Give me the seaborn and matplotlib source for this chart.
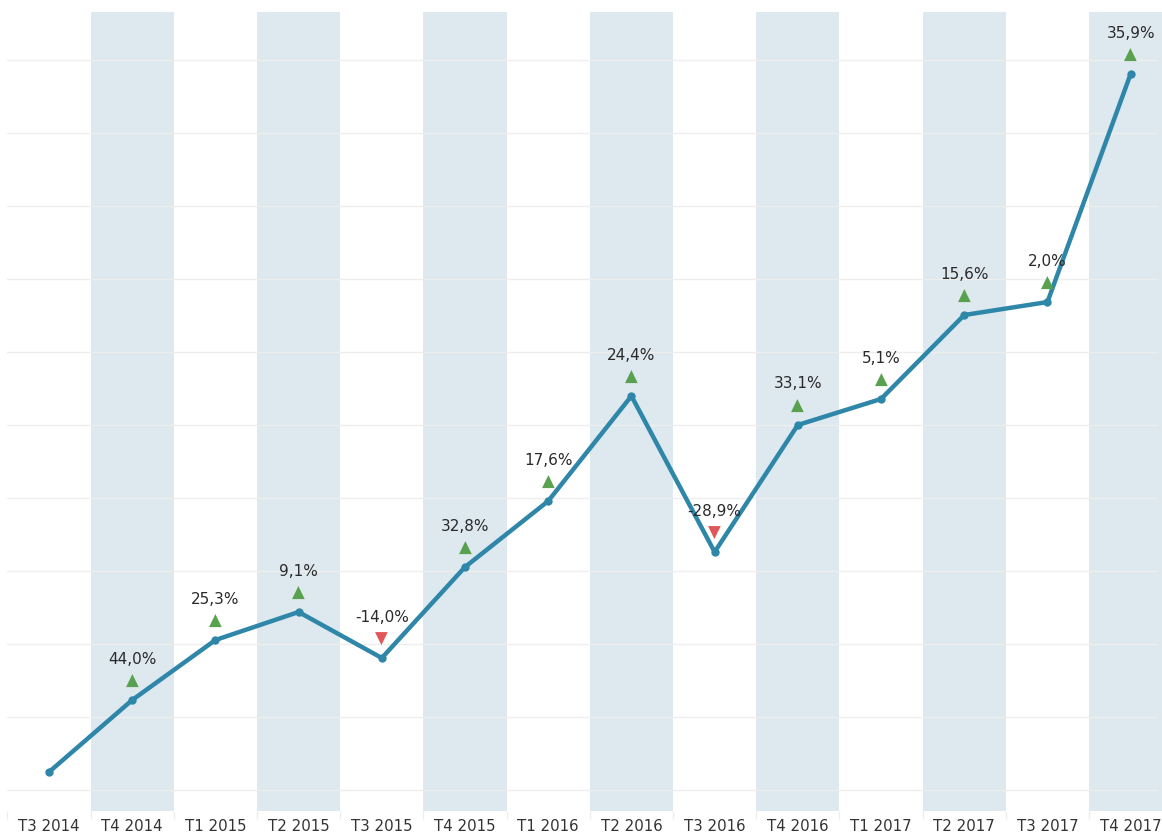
import matplotlib
matplotlib.use("Agg")
import matplotlib.pyplot as plt
import seaborn as sns
import pandas as pd
import numpy as np

quarters = ["T3 2014", "T4 2014", "T1 2015", "T2 2015", "T3 2015", "T4 2015", "T1 2016",
            "T2 2016", "T3 2016", "T4 2016", "T1 2017", "T2 2017", "T3 2017", "T4 2017"]
values = [2241, 3227, 4049, 4433, 3803, 5049, 5953, 7392, 5255, 6995, 7351, 8501, 8679, 11803]
changes = [None, 44.0, 25.3, 9.1, -14.0, 32.8, 17.6, 24.4, -28.9, 33.1, 5.1, 15.6, 2.0, 35.9]

sns.set_theme(style="white")
plt.rcParams['font.family'] = ['DejaVu Sans']

df = pd.DataFrame({"quarter": quarters, "value": values, "idx": range(len(quarters))})

fig = plt.figure(figsize=(11.62, 8.34), dpi=100)
ax = fig.add_axes([7.4/1162, (834-811)/834, (1162-7.4)/1162, (811-12)/834])

# alternating stripes
for i in range(len(quarters)):
    if i % 2 == 1:
        ax.axvspan(i - 0.5, i + 0.5, color="#dde8ef", zorder=0, lw=0)

for g in range(2000, 13000, 1000):
    ax.axhline(g, xmax=(1157-7.4)/(1162-7.4), color="#eeeeee", lw=1, zorder=1)

sns.lineplot(data=df, x="idx", y="value", ax=ax, color="#2e86a8", lw=3.2,
             marker="o", markersize=6, markeredgewidth=0, zorder=3)

for i, (v, c) in enumerate(zip(values, changes)):
    if c is None:
        continue
    up = c >= 0
    ax.annotate("▲" if up else "▼", (i, v), xytext=(0, 14), textcoords="offset points",
                ha="center", va="center", fontsize=12,
                color="#59a14f" if up else "#e15759", zorder=4)
    ax.annotate(f"{c:.1f}%".replace(".", ","), (i, v), xytext=(0, 29.5),
                textcoords="offset points", ha="center", va="center",
                fontsize=11, color="#2a2a2a", zorder=5)

ax.set_xticks(range(len(quarters)))
ax.set_xticklabels(quarters, fontsize=10.8, color="#333333")
ax.set_xticks(np.arange(-0.5, 13.0, 1), minor=True)
ax.tick_params(axis="x", which="major", length=0, pad=6)
ax.tick_params(axis="x", which="minor", length=6, color="#eeeeee", width=1, direction="out")
ax.xaxis.set_tick_params(which="minor", bottom=True)
ax.set_yticks([])
ax.set_xlim(-0.5, 13.377)
ax.set_ylim(1707, 12652)
ax.set_xlabel("")
ax.set_ylabel("")
for s in ax.spines.values():
    s.set_visible(False)

fig.savefig("out.png", dpi=100, facecolor="white")
